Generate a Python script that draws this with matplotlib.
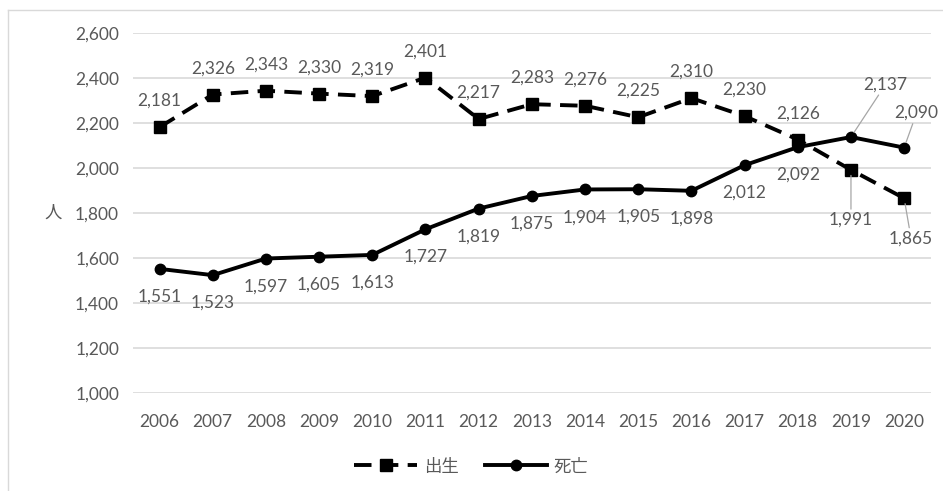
import matplotlib.pyplot as plt
from matplotlib.lines import Line2D

plt.rcParams['font.family'] = ['Lato', 'Noto Sans CJK JP', 'DejaVu Sans']

years = ['2006', '2007', '2008', '2009', '2010', '2011', '2012', '2013',
         '2014', '2015', '2016', '2017', '2018', '2019', '2020']
births = [2181, 2326, 2343, 2330, 2319, 2401, 2217, 2283, 2276, 2225, 2310, 2230, 2126, 1991, 1865]
deaths = [1551, 1523, 1597, 1605, 1613, 1727, 1819, 1875, 1904, 1905, 1898, 2012, 2092, 2137, 2090]
yticks = [1000, 1200, 1400, 1600, 1800, 2000, 2200, 2400, 2600]

grey = '#595959'
fs = 12.5
fig = plt.figure(figsize=(9.43, 4.91), dpi=100)
ax = fig.add_axes([0.141, 0.200, 0.846, 0.733])
x = list(range(len(years)))

ax.plot(x, births, color='black', lw=2.8, ls=(0, (4.5, 2.4)), marker='s', ms=8.5,
        label='出生', zorder=3)
ax.plot(x, deaths, color='black', lw=2.8, marker='o', ms=7.5, label='死亡', zorder=3)

ax.set_xlim(-0.5, len(years) - 0.5)
ax.set_ylim(1000, 2600)
ax.set_yticks(yticks)
ax.set_yticklabels([f'{v:,}' for v in yticks])
ax.set_xticks(x)
ax.set_xticklabels(years)
ax.tick_params(length=0, labelsize=fs, colors=grey, pad=10)
ax.tick_params(axis='x', pad=15)
ax.grid(axis='y', color='#d9d9d9', lw=1.2)
ax.set_axisbelow(True)
for s in ax.spines.values():
    s.set_visible(False)
ax.set_ylabel('人', rotation=0, fontsize=fs, color=grey, va='center')
ax.yaxis.set_label_coords(-0.1, 0.5)

lead = dict(arrowstyle='-', color='#a6a6a6', lw=0.9, shrinkA=0, shrinkB=4)
for i, v in enumerate(births):
    if i == 13:
        ax.annotate(f'{v:,}', (i, v), xytext=(0, -36), textcoords='offset points',
                    ha='center', va='center', fontsize=fs, color=grey, arrowprops=lead)
    elif i == 14:
        ax.annotate(f'{v:,}', (i, v), xytext=(5, -29), textcoords='offset points',
                    ha='center', va='center', fontsize=fs, color=grey, arrowprops=lead)
    else:
        ax.annotate(f'{v:,}', (i, v), xytext=(0, 19), textcoords='offset points',
                    ha='center', va='center', fontsize=fs, color=grey)
for i, v in enumerate(deaths):
    if i == 13:
        ax.annotate(f'{v:,}', (i, v), xytext=(25, 38), textcoords='offset points',
                    ha='center', va='center', fontsize=fs, color=grey, arrowprops=lead)
    elif i == 14:
        ax.annotate(f'{v:,}', (i, v), xytext=(9, 25), textcoords='offset points',
                    ha='center', va='center', fontsize=fs, color=grey, arrowprops=lead)
    else:
        ax.annotate(f'{v:,}', (i, v), xytext=(0, -20), textcoords='offset points',
                    ha='center', va='center', fontsize=fs, color=grey)

leg = fig.legend(loc='center', bbox_to_anchor=(0.5, 0.05), ncol=2, frameon=False,
                 fontsize=fs, handlelength=3.6, columnspacing=1.5, handletextpad=0.4)
for t in leg.get_texts():
    t.set_color(grey)

# thin frame at top and left like the source
fig.add_artist(Line2D([8 / 943, 1], [1 - 10 / 491, 1 - 10 / 491], color='#d9d9d9', lw=1))
fig.add_artist(Line2D([8 / 943, 8 / 943], [0, 1 - 10 / 491], color='#d9d9d9', lw=1))

fig.savefig('out.png', dpi=100)
